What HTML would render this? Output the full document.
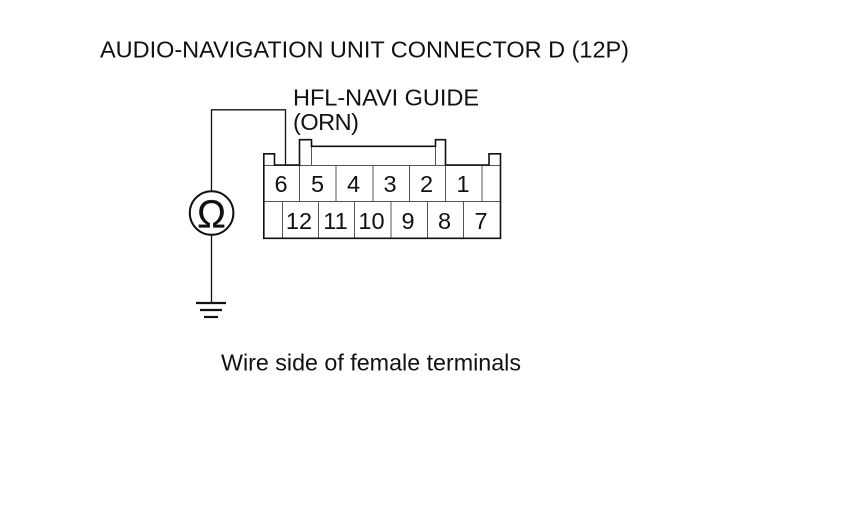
<!DOCTYPE html>
<html>
<head>
<meta charset="utf-8">
<style>
html,body{margin:0;padding:0;background:#fff;}
svg{display:block;}
text{font-family:"Liberation Sans",sans-serif;fill:#111;}
</style>
</head>
<body>
<svg width="860" height="524" viewBox="0 0 860 524" xmlns="http://www.w3.org/2000/svg">
<rect width="860" height="524" fill="#fff"/>
<text x="100" y="57.500" font-size="23.500" textLength="529" lengthAdjust="spacing">AUDIO-NAVIGATION UNIT CONNECTOR D (12P)</text>
<text x="293" y="105.500" font-size="23.500" textLength="186" lengthAdjust="spacing">HFL-NAVI GUIDE</text>
<text x="293" y="130" font-size="23.500" textLength="66" lengthAdjust="spacing">(ORN)</text>
<text x="221" y="370.500" font-size="23.300" textLength="300" lengthAdjust="spacing">Wire side of female terminals</text>

<g fill="none" stroke="#555" stroke-width="1">
<path d="M264 165.500H500M264 201.500H500"/>
<path d="M311.500 146V165M435.500 146V165"/>
<path d="M299.500 165V201M336 165V201M373 165V201M409.500 165V201M445.500 165V201M482 165V201"/>
<path d="M282.500 201V238M318.500 201V238M354.500 201V238M391 201V238M427.500 201V238M463.500 201V238"/>
</g>
<g fill="none" stroke="#111" stroke-width="1.600">
<path d="M263.800 238.300V153.800H274.500V165H299.500V139.700H311.500V146.300H435.500V139.700H445.500V165H489V153.800H500.500V238.300Z"/>
<path d="M285.500 165V109.800H211.500V191" stroke-width="1.300"/>
<path d="M211.500 235V303" stroke-width="1.300"/>
<circle cx="211.600" cy="213" r="21.800" stroke-width="2"/>
</g>
<path d="M196 303H226" stroke="#111" stroke-width="2.200"/>
<path d="M200 310H222" stroke="#111" stroke-width="2.200"/>
<path d="M204 317H218" stroke="#111" stroke-width="2.200"/>
<text x="211.500" y="227.700" font-size="38.500" text-anchor="middle" stroke="#111" stroke-width="0.200">Ω</text>

<g font-size="23.500" text-anchor="middle">
<text x="281" y="192">6</text>
<text x="317.500" y="192">5</text>
<text x="353.500" y="192">4</text>
<text x="390" y="192">3</text>
<text x="426.500" y="192">2</text>
<text x="463" y="192">1</text>
<text x="299" y="229">12</text>
<text x="335.500" y="229">11</text>
<text x="371.500" y="229">10</text>
<text x="408" y="229">9</text>
<text x="444.500" y="229">8</text>
<text x="481" y="229">7</text>
</g>
</svg>
</body>
</html>
